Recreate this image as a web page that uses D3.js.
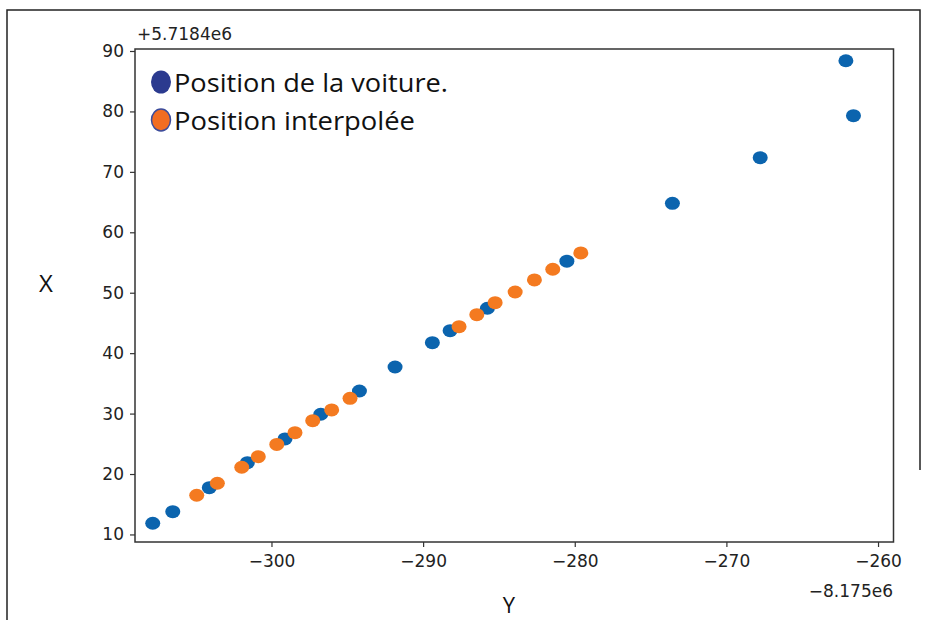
<!DOCTYPE html>
<html>
<head>
<meta charset="utf-8">
<script src="https://cdn.jsdelivr.net/npm/d3@7"></script>
<style>
  body { margin: 0; background: #fff; }
  svg { display: block; }
</style>
</head>
<body>
<div id="chart"></div>
<script>
// values are offsets: Y + (-8.175e6), X + 5.7184e6
var voiture_y = [-307.83, -306.51, -304.10, -301.59, -299.11, -296.75, -294.20, -291.85,
                 -289.39, -288.22, -285.76, -280.52, -273.56, -267.77, -262.12, -261.62];
var voiture_x = [11.85, 13.77, 17.74, 21.88, 25.80, 29.89, 33.74, 37.71,
                 41.73, 43.72, 47.43, 55.22, 64.80, 72.34, 88.39, 79.29];

var interp_y = [-304.93, -303.57, -301.96, -300.87, -299.65, -298.45, -297.28, -296.03,
                -294.82, -287.63, -286.46, -285.25, -283.93, -282.66, -281.45, -279.60];
var interp_x = [16.49, 18.47, 21.12, 22.87, 24.89, 26.84, 28.83, 30.60,
                32.53, 44.38, 46.37, 48.35, 50.12, 52.11, 53.88, 56.58];

var xticks = [-300, -290, -280, -270, -260];
var yticks = [10, 20, 30, 40, 50, 60, 70, 80, 90];
var legend_labels = ["Position de la voiture.", "Position interpolée"];

var W = 927, H = 620;
var color_blue = "#0b64ae";
var color_orange = "#f47a20";

var svg = d3.select("#chart").append("svg")
    .attr("width", W).attr("height", H);

// outer frame of the screenshot
svg.append("path")
    .attr("d", "M7,620 L7,10 L920,10 L920,470")
    .attr("fill", "none").attr("stroke", "#222").attr("stroke-width", 1.5);

var x = d3.scaleLinear().domain([-309.0, -258.98]).range([135, 893.5]);
var y = d3.scaleLinear().domain([8.75, 90.33]).range([542, 49]);

var tickFont = "'DejaVu Sans', sans-serif";

var gx = svg.append("g")
    .attr("transform", "translate(0," + 542 + ")")
    .call(d3.axisBottom(x).tickValues(xticks).tickSize(5).tickPadding(8)
        .tickFormat(d3.format("d")));
var gy = svg.append("g")
    .attr("transform", "translate(135,0)")
    .call(d3.axisLeft(y).tickValues(yticks).tickSize(5).tickPadding(6));

[gx, gy].forEach(function(g){
    g.select(".domain").remove();
    g.selectAll("line").attr("stroke", "#333").attr("stroke-width", 1.2);
    g.selectAll("text").attr("font-family", tickFont).attr("font-size", 17).attr("fill", "#222");
});

// frame of the axes
svg.append("rect")
    .attr("x", 135).attr("y", 49)
    .attr("width", 893.5 - 135).attr("height", 542 - 49)
    .attr("fill", "none").attr("stroke", "#333").attr("stroke-width", 1.5);

// offset texts
svg.append("text").attr("x", 137).attr("y", 40)
    .attr("font-family", tickFont).attr("font-size", 17).attr("fill", "#222")
    .text("+5.7184e6");
svg.append("text").attr("x", 893).attr("y", 597).attr("text-anchor", "end")
    .attr("font-family", tickFont).attr("font-size", 17).attr("fill", "#222")
    .text("\u22128.175e6");

// points
var pts_blue = voiture_y.map(function(v, i){ return {y: v, x: voiture_x[i]}; });
var pts_orange = interp_y.map(function(v, i){ return {y: v, x: interp_x[i]}; });

svg.append("g").selectAll("ellipse").data(pts_blue).enter().append("ellipse")
    .attr("cx", function(d){ return x(d.y); })
    .attr("cy", function(d){ return y(d.x); })
    .attr("rx", 7.5).attr("ry", 6.5)
    .attr("fill", color_blue);

svg.append("g").selectAll("ellipse").data(pts_orange).enter().append("ellipse")
    .attr("cx", function(d){ return x(d.y); })
    .attr("cy", function(d){ return y(d.x); })
    .attr("rx", 7.5).attr("ry", 6.5)
    .attr("fill", color_orange);

// legend
var legFont = "'Open Sans', 'Noto Sans', sans-serif";
svg.append("ellipse").attr("cx", 161).attr("cy", 82).attr("rx", 10).attr("ry", 11.5)
    .attr("fill", "#2b3a8f");
svg.append("ellipse").attr("cx", 161).attr("cy", 120).attr("rx", 9.5).attr("ry", 11)
    .attr("fill", "#f26d22").attr("stroke", "#3b4c9c").attr("stroke-width", 1.5);

svg.append("text").attr("x", 174).attr("y", 92)
    .attr("font-family", legFont).attr("font-size", 25).attr("fill", "#111")
    .attr("textLength", 274).attr("lengthAdjust", "spacingAndGlyphs")
    .text(legend_labels[0]);
svg.append("text").attr("x", 174).attr("y", 130)
    .attr("font-family", legFont).attr("font-size", 25).attr("fill", "#111")
    .attr("textLength", 241).attr("lengthAdjust", "spacingAndGlyphs")
    .text(legend_labels[1]);

// axis titles
svg.append("text").attr("x", 46).attr("y", 292).attr("text-anchor", "middle")
    .attr("font-family", legFont).attr("font-size", 24).attr("fill", "#111")
    .text("X");
svg.append("text").attr("x", 509).attr("y", 613).attr("text-anchor", "middle")
    .attr("font-family", legFont).attr("font-size", 22).attr("fill", "#111")
    .text("Y");
</script>
</body>
</html>
